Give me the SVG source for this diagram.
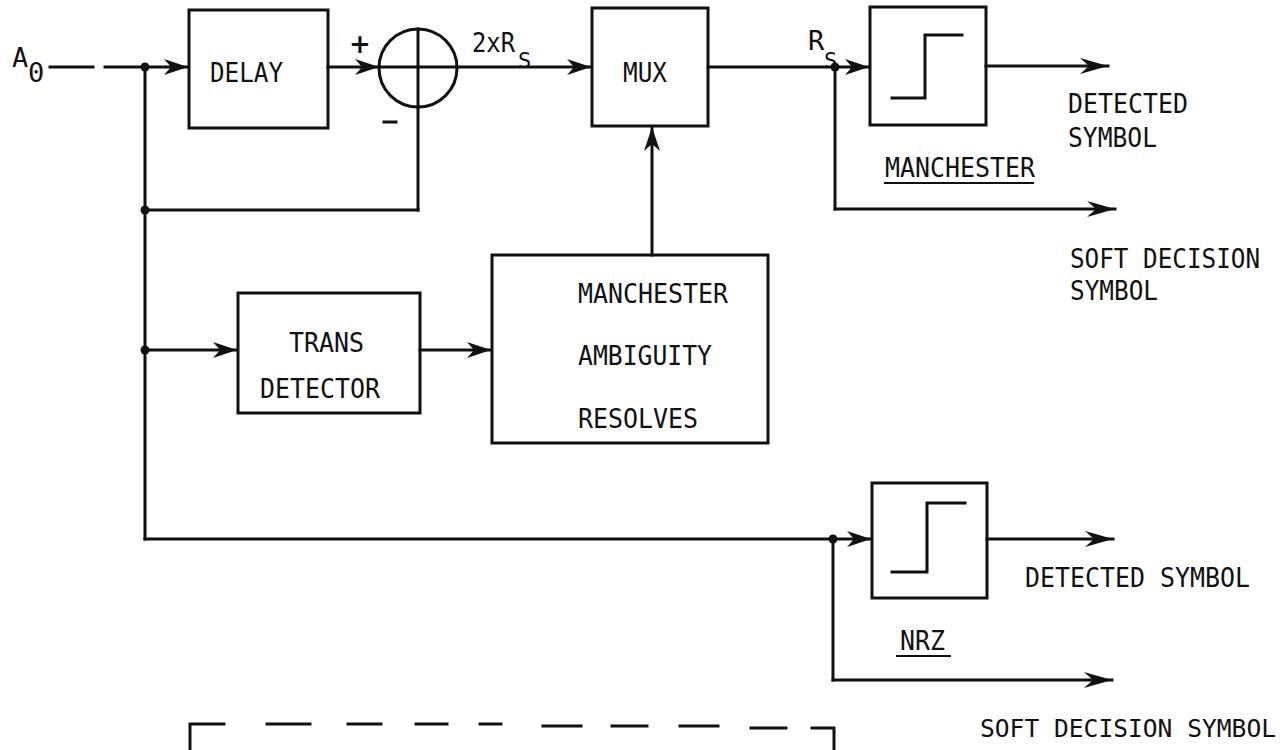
<svg xmlns="http://www.w3.org/2000/svg" width="1287" height="750" viewBox="0 0 1287 750">
<style>
.ln{stroke:#111;stroke-width:3;fill:none;stroke-linecap:square}
.bx{stroke:#111;stroke-width:3;fill:none}
.t{font-family:"DejaVu Sans Mono","Liberation Mono",monospace;font-size:27px;fill:#111}
.s{font-family:"DejaVu Sans Mono","Liberation Mono",monospace;font-size:22px;fill:#111}
.dot{fill:#111}
</style>
<defs>
<marker id="ah" markerUnits="userSpaceOnUse" markerWidth="30" markerHeight="20" refX="0" refY="0" viewBox="-30 -10 30 20" orient="auto" overflow="visible">
<path d="M0,0 L-24,-8 L-17,0 L-24,8 Z" fill="#111"/>
</marker>
<marker id="ah2" markerUnits="userSpaceOnUse" markerWidth="32" markerHeight="20" refX="0" refY="0" viewBox="-32 -10 32 20" orient="auto" overflow="visible">
<path d="M0,0 L-28,-8 L-19,0 L-28,8 Z" fill="#111"/>
</marker>
</defs>
<rect width="1287" height="750" fill="#fff"/>

<g id="connectors">
<line class="ln" x1="50" y1="67" x2="93" y2="67"/>
<line class="ln" x1="105" y1="67" x2="145" y2="67"/>
<line class="ln" x1="145" y1="67" x2="188" y2="67" marker-end="url(#ah)"/>
<line class="ln" x1="145" y1="67" x2="145" y2="539"/>
<line class="ln" x1="145" y1="210" x2="418" y2="210"/>
<line class="ln" x1="418" y1="210" x2="418" y2="107"/>
<line class="ln" x1="328" y1="67" x2="379" y2="67" marker-end="url(#ah)"/>
<line class="ln" x1="457" y1="67" x2="591" y2="67" marker-end="url(#ah)"/>
<line class="ln" x1="145" y1="350" x2="237" y2="350" marker-end="url(#ah)"/>
<line class="ln" x1="420" y1="350" x2="491" y2="350" marker-end="url(#ah)"/>
<line class="ln" x1="652" y1="255" x2="652" y2="127" marker-end="url(#ah)"/>
<line class="ln" x1="708" y1="67" x2="869" y2="67" marker-end="url(#ah)"/>
<line class="ln" x1="835" y1="67" x2="835" y2="209"/>
<line class="ln" x1="835" y1="209" x2="1115" y2="209" marker-end="url(#ah2)"/>
<line class="ln" x1="986" y1="66" x2="1108" y2="66" marker-end="url(#ah2)"/>
<line class="ln" x1="145" y1="539" x2="871" y2="539" marker-end="url(#ah)"/>
<line class="ln" x1="833" y1="539" x2="833" y2="680"/>
<line class="ln" x1="833" y1="680" x2="1112" y2="680" marker-end="url(#ah2)"/>
<line class="ln" x1="987" y1="539" x2="1113" y2="539" marker-end="url(#ah2)"/>
<circle class="dot" cx="145" cy="67" r="4.5"/>
<circle class="dot" cx="145" cy="210" r="4.5"/>
<circle class="dot" cx="145" cy="350" r="4.5"/>
<circle class="dot" cx="835" cy="67" r="4.5"/>
<circle class="dot" cx="833" cy="539" r="4.5"/>
</g>

<g id="input">
<text class="t" x="12" y="67">A</text>
<text class="t" x="28" y="82">0</text>
</g>

<g id="delay">
<rect class="bx" x="189" y="10" width="139" height="118"/>
<text class="t" x="210" y="82" textLength="73" lengthAdjust="spacingAndGlyphs">DELAY</text>
</g>

<g id="summer">
<circle class="bx" cx="418" cy="68" r="39"/>
<line class="ln" x1="418" y1="29" x2="418" y2="107"/>
<line class="ln" x1="379" y1="67" x2="457" y2="67"/>
<text x="360" y="53" text-anchor="middle" style="font-family:'DejaVu Sans',sans-serif;font-size:26px;font-weight:bold;fill:#111">+</text>
<line class="ln" x1="384" y1="122" x2="396" y2="122"/>
</g>

<g id="rate-labels">
<text class="t" x="472" y="52" textLength="43" lengthAdjust="spacingAndGlyphs">2xR</text>
<text class="s" x="518" y="68">S</text>
<text class="t" x="808" y="50">R</text>
<text class="s" x="824" y="68">S</text>
</g>

<g id="mux">
<rect class="bx" x="592" y="8" width="116" height="118"/>
<text class="t" x="623" y="82" textLength="44" lengthAdjust="spacingAndGlyphs">MUX</text>
</g>

<g id="manchester-slicer">
<rect class="bx" x="870" y="7" width="116" height="118"/>
<polyline class="ln" points="892,98 925,98 925,35 962,35"/>
<text class="t" x="885" y="177" textLength="150" lengthAdjust="spacingAndGlyphs">MANCHESTER</text>
<line class="ln" x1="885" y1="183" x2="1033" y2="183" style="stroke-width:2"/>
<text class="t" x="1068" y="113" textLength="120" lengthAdjust="spacingAndGlyphs">DETECTED</text>
<text class="t" x="1068" y="147" textLength="89" lengthAdjust="spacingAndGlyphs">SYMBOL</text>
<text class="t" x="1070" y="268" textLength="190" lengthAdjust="spacingAndGlyphs">SOFT DECISION</text>
<text class="t" x="1070" y="300" textLength="88" lengthAdjust="spacingAndGlyphs">SYMBOL</text>
</g>

<g id="trans-detector">
<rect class="bx" x="238" y="293" width="182" height="120"/>
<text class="t" x="289" y="352" textLength="75" lengthAdjust="spacingAndGlyphs">TRANS</text>
<text class="t" x="260" y="398" textLength="120" lengthAdjust="spacingAndGlyphs">DETECTOR</text>
</g>

<g id="ambiguity-resolver">
<rect class="bx" x="492" y="255" width="276" height="188"/>
<text class="t" x="578" y="303" textLength="150" lengthAdjust="spacingAndGlyphs">MANCHESTER</text>
<text class="t" x="578" y="365" textLength="134" lengthAdjust="spacingAndGlyphs">AMBIGUITY</text>
<text class="t" x="578" y="428" textLength="120" lengthAdjust="spacingAndGlyphs">RESOLVES</text>
</g>

<g id="nrz-slicer">
<rect class="bx" x="872" y="483" width="115" height="115"/>
<polyline class="ln" points="892,572 927,572 927,503 965,503"/>
<text class="t" x="900" y="650" textLength="45" lengthAdjust="spacingAndGlyphs">NRZ</text>
<line class="ln" x1="897" y1="656" x2="950" y2="656" style="stroke-width:2"/>
<text class="t" x="1025" y="587" textLength="225" lengthAdjust="spacingAndGlyphs">DETECTED SYMBOL</text>
<text class="t" x="980" y="737" style="font-size:25px" textLength="296" lengthAdjust="spacingAndGlyphs">SOFT DECISION SYMBOL</text>
</g>

<g id="dashed-box">
<path class="ln" d="M224,724 H190 V750"/>
<line class="ln" x1="267" y1="724" x2="310" y2="724"/>
<line class="ln" x1="348" y1="724" x2="381" y2="724"/>
<line class="ln" x1="416" y1="724" x2="447" y2="724"/>
<line class="ln" x1="480" y1="724" x2="501" y2="724"/>
<line class="ln" x1="543" y1="726" x2="581" y2="726"/>
<line class="ln" x1="612" y1="726" x2="647" y2="726"/>
<line class="ln" x1="680" y1="726" x2="718" y2="726"/>
<line class="ln" x1="751" y1="728" x2="786" y2="728"/>
<path class="ln" d="M812,728 H834 V750"/>
</g>
</svg>
